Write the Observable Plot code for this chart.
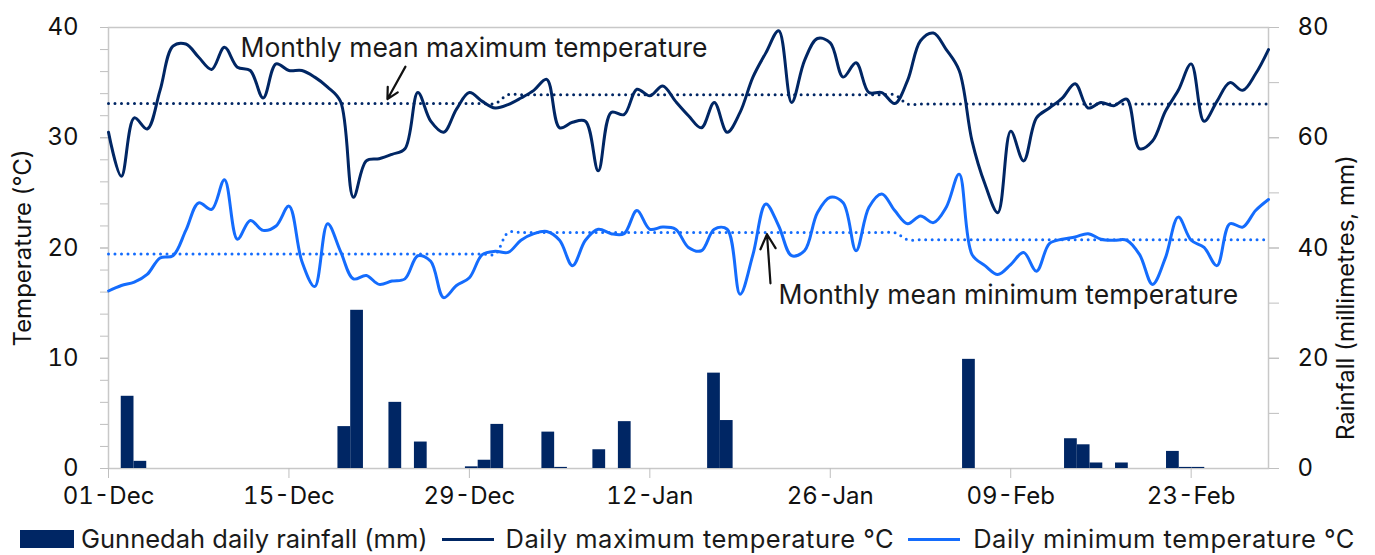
<!DOCTYPE html>
<html>
<head>
<meta charset="utf-8">
<script src="https://cdn.jsdelivr.net/npm/d3@7"></script>
<script src="https://cdn.jsdelivr.net/npm/@observablehq/plot@0.6"></script>
<style>
  html, body { margin: 0; padding: 0; background: #fff; overflow: hidden; }
  #chart svg { display: block; }
  #legend { display: flex; align-items: center; height: 30px; line-height: 30px; padding-top: 10px; padding-left: 20px;
            font-family: Inter, sans-serif; font-size: 25.5px; color: #1a1a1a; white-space: nowrap; }
  #legend .sw { display: inline-block; flex: none; }
</style>
</head>
<body>
<div id="chart"></div>
<div id="legend"></div>
<script>
// ---- Data (Gunnedah, 1 Dec – 29 Feb), one value per day ----
const rain = [
  0, 13.1, 1.3, 0, 0, 0, 0, 0, 0, 0,
  0, 0, 0, 0, 0, 0, 0, 0, 7.6, 28.7,
  0, 0, 12.0, 0, 4.8, 0, 0, 0, 0.3, 1.5,
  8.0, 0, 0, 0, 6.6, 0.2, 0, 0, 3.4, 0,
  8.5, 0, 0, 0, 0, 0, 0, 17.3, 8.7, 0,
  0, 0, 0, 0, 0, 0, 0, 0, 0, 0,
  0, 0, 0, 0, 0, 0, 0, 19.8, 0, 0,
  0, 0, 0, 0, 0, 5.4, 4.3, 1.0, 0, 1.0,
  0, 0, 0, 3.1, 0.2, 0.2, 0, 0, 0, 0,
  0
];
const tmax = [
  30.5, 26.5, 31.8, 30.8, 34.3, 38.3, 38.5, 37.3, 36.2, 38.2,
  36.4, 36.1, 33.6, 36.7, 36.1, 36.1, 35.5, 34.6, 33.3, 24.6,
  27.9, 28.1, 28.5, 29.0, 34.1, 31.5, 30.5, 32.6, 34.1, 33.3,
  32.7, 33.0, 33.6, 34.3, 35.3, 30.9, 31.4, 31.5, 27.0, 32.3,
  32.1, 34.4, 33.8, 34.7, 33.3, 32.0, 30.9, 33.2, 30.5, 32.3,
  35.5, 37.7, 39.7, 33.2, 37.0, 39.0, 38.6, 35.5, 36.8, 34.1,
  34.1, 33.1, 35.2, 38.8, 39.5, 38.0, 36.1, 29.7, 25.8, 23.2,
  30.6, 27.9, 31.8, 32.7, 33.6, 34.9, 32.7, 33.2, 32.9, 33.5,
  29.0, 29.7, 32.4, 34.3, 36.7, 31.5, 33.3, 35.0, 34.3, 35.8,
  38.0
];
const tmin = [
  16.1, 16.6, 16.9, 17.6, 19.1, 19.3, 21.6, 24.1, 23.5, 26.2,
  20.8, 22.5, 21.6, 22.0, 23.8, 18.8, 16.5, 22.2, 19.7, 17.2,
  17.5, 16.7, 17.0, 17.2, 19.3, 18.8, 15.5, 16.6, 17.3, 19.4,
  19.7, 19.6, 20.7, 21.3, 21.5, 20.7, 18.4, 20.7, 21.7, 21.3,
  21.3, 23.4, 21.7, 21.9, 21.7, 20.05, 19.75, 21.7, 21.7, 15.8,
  19.4, 24.0, 22.0, 19.3, 19.75, 23.2, 24.6, 24.1, 19.75, 23.7,
  24.9, 23.4, 22.2, 22.9, 22.3, 23.7, 26.7, 19.4, 18.4, 17.6,
  18.5, 19.6, 17.9, 20.4, 20.8, 21.0, 21.3, 20.8, 20.7, 20.7,
  19.4, 16.7, 19.1, 22.8, 20.7, 20.05, 18.4, 22.2, 21.9, 23.4,
  24.4
];
const monthLengths = [31, 31, 29];            // Dec, Jan, Feb
const monthlyMeanMax = [33.1, 33.9, 33.05];
const monthlyMeanMin = [19.45, 21.4, 20.75];

const tickDays = [0, 14, 28, 42, 56, 70, 84];
const tickLabels = ["01-Dec", "15-Dec", "29-Dec", "12-Jan", "26-Jan", "09-Feb", "23-Feb"];
const tempTicks = [0, 10, 20, 30, 40];
const tempMinorTicks = d3.range(0, 41, 2);
const rainTicks = [0, 20, 40, 60, 80];
const rainMinorTicks = d3.range(0, 81, 10);

const seriesNames = ["Gunnedah daily rainfall (mm)", "Daily maximum temperature °C", "Daily minimum temperature °C"];
const colors = {rain: "#002664", tmax: "#002664", tmin: "#146cfd"};

const annotations = [
  {text: "Monthly mean maximum temperature", x: 10.24, y: 38.1},
  {text: "Monthly mean minimum temperature", x: 51.98, y: 15.7}
];
const arrows = [
  {x1: 23.04, y1: 36.45, x2: 21.64, y2: 33.5},
  {x1: 51.36, y1: 16.8, x2: 51.09, y2: 21.25}
];

// ---- Build table ----
const monthOfDay = [];
monthLengths.forEach((n, m) => { for (let k = 0; k < n; k++) monthOfDay.push(m); });
const nDays = rain.length;          // 91 daily categories
const span = nDays - 1;             // date axis: first to last day
const rainToTemp = 40 / 80;         // secondary axis ratio
const data = d3.range(nDays).map(i => ({
  day: i,
  rain: rain[i],
  tmax: tmax[i],
  tmin: tmin[i],
  meanMax: monthlyMeanMax[monthOfDay[i]],
  meanMin: monthlyMeanMin[monthOfDay[i]]
}));

const fontFamily = "Inter, sans-serif";
const chart = Plot.plot({
  width: 1375,
  height: 514,
  marginLeft: 108,
  marginRight: 107,
  marginTop: 27,
  marginBottom: 46,
  style: {fontFamily, fontSize: "24px", background: "#fff", color: "#111"},
  x: {domain: [0, span], axis: null},
  y: {domain: [0, 40], axis: null},
  marks: [
    Plot.frame({stroke: "#c8c8c8", strokeWidth: 1.5}),
    // rainfall bars on a category axis of nDays bands spanning the plot
    Plot.rectY(data.filter(d => d.rain > 0), {
      x1: d => d.day * span / nDays,
      x2: d => (d.day + 1) * span / nDays,
      y1: 0,
      y2: d => d.rain * rainToTemp,
      fill: colors.rain
    }),
    Plot.line(data, {x: "day", y: "tmax", curve: "catmull-rom", stroke: colors.tmax, strokeWidth: 3}),
    Plot.line(data, {x: "day", y: "tmin", curve: "catmull-rom", stroke: colors.tmin, strokeWidth: 3}),
    Plot.line(data, {x: "day", y: "meanMax", curve: "catmull-rom", stroke: colors.tmax, strokeWidth: 3,
      strokeDasharray: "0 6.5", strokeLinecap: "round"}),
    Plot.line(data, {x: "day", y: "meanMin", curve: "catmull-rom", stroke: colors.tmin, strokeWidth: 3,
      strokeDasharray: "0 6.5", strokeLinecap: "round"}),
    // axes
    Plot.axisY(tempMinorTicks, {anchor: "left", tickSize: 8, tickFormat: () => "", stroke: "#bfbfbf"}),
    Plot.axisY(tempTicks, {anchor: "left", tickSize: 8, tickPadding: 22, fontSize: 24, stroke: "#bfbfbf", fill: "#111"}),
    Plot.axisY(rainMinorTicks.map(r => r * rainToTemp), {anchor: "right", tickSize: 10, tickFormat: () => "", stroke: "#bfbfbf"}),
    Plot.axisY(rainTicks.map(r => r * rainToTemp), {anchor: "right", tickSize: 10, tickPadding: 19, fontSize: 24,
      tickFormat: t => String(Math.round(t / rainToTemp)), stroke: "#bfbfbf", fill: "#111"}),
    Plot.axisX(tickDays, {anchor: "bottom", tickSize: 10, tickPadding: 8, fontSize: 24,
      tickFormat: d => tickLabels[tickDays.indexOf(d)], stroke: "#bfbfbf", fill: "#111"}),
    // axis titles
    Plot.text(["Temperature (°C)"], {y: [20], frameAnchor: "left", textAnchor: "middle", dx: -85, rotate: -90, fontSize: 24, fill: "#111"}),
    Plot.text(["Rainfall (millimetres, mm)"], {y: [15.5], frameAnchor: "right", textAnchor: "middle", dx: 78, rotate: -90, fontSize: 24, fill: "#111"}),
    // annotations
    Plot.arrow(arrows, {x1: "x1", y1: "y1", x2: "x2", y2: "y2", stroke: "#111", strokeWidth: 2.2, headLength: 13, headAngle: 55}),
    Plot.text(annotations, {x: "x", y: "y", text: "text", textAnchor: "start", fontSize: 26.5, fill: "#1a1a1a"})
  ]
});
document.getElementById("chart").appendChild(chart);

// ---- Legend (HTML, below the SVG) ----
const legend = document.getElementById("legend");
const legendItems = [
  {name: seriesNames[0], swatch: `width:54px;height:18px;background:${colors.rain};margin-right:7px`, ls: 0},
  {name: seriesNames[1], swatch: `width:52px;height:3px;background:${colors.tmax};margin:0 12px 0 14px`, ls: 0.5},
  {name: seriesNames[2], swatch: `width:52px;height:3px;background:${colors.tmin};margin:0 13px 0 14px`, ls: 0.5}
];
for (const it of legendItems) {
  const s = document.createElement("span");
  s.className = "sw";
  s.style.cssText = it.swatch;
  legend.appendChild(s);
  const t = document.createElement("span");
  t.textContent = it.name;
  t.style.letterSpacing = it.ls + "px";
  legend.appendChild(t);
}
</script>
</body>
</html>
